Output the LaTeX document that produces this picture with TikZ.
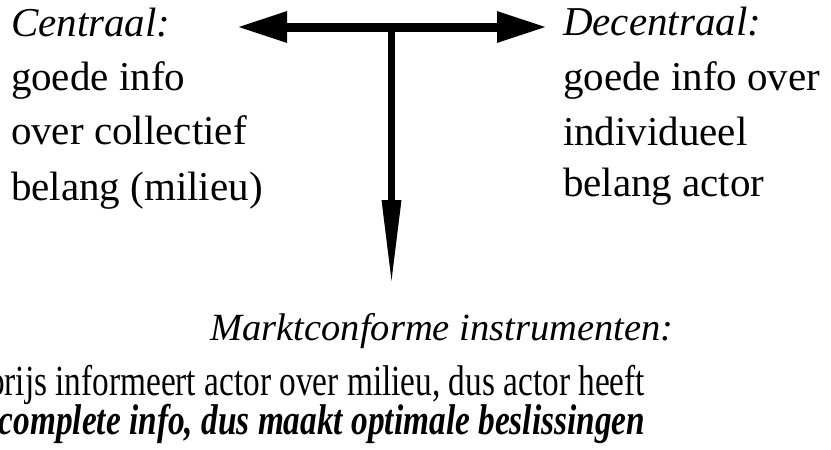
\documentclass[tikz,border=0pt]{standalone}
\usepackage{fontspec}
\usepackage{graphicx}
\setmainfont{Liberation Serif}
\usetikzlibrary{arrows.meta}
\begin{document}
\begin{tikzpicture}[x=1pt,y=-1pt,
  txt/.style={inner sep=0pt,outer sep=0pt,font=\fontsize{41}{48}\selectfont},
  htxt/.style={inner sep=0pt,outer sep=0pt,font=\fontsize{38.5}{44}\selectfont},
  btxt/.style={inner sep=0pt,outer sep=0pt,font=\fontsize{43}{48}\selectfont},
  harrow/.style={line width=9pt,{Triangle[length=50pt,width=29pt]}-{Triangle[length=50pt,width=29pt]}},
  varrow/.style={line width=6.5pt,-{Triangle[length=85pt,width=18pt]}}]
\useasboundingbox (0,0) rectangle (831,450);
\clip (0,0) rectangle (831,450);
% connectors
\coordinate (L) at (237,27);
\coordinate (R) at (547,27);
\coordinate (J) at (391.5,27);
\coordinate (B) at (391.5,285);
\draw[harrow] (L) -- (R);
\draw[varrow] (J) -- (B);
% left column
\node[txt,anchor=base west] (c1) at (11,36) {\itshape Centraal:};
\node[txt,anchor=base west] (c2) at (11,90) {goede info};
\node[txt,anchor=base west] (c3) at (11,144) {over collectief};
\node[txt,anchor=base west] (c4) at (11,200) {belang (milieu)};
% right column
\node[txt,anchor=base west] (d1) at (563,35) {\itshape Decentraal:};
\node[txt,anchor=base west] (d2) at (563,90) {goede info over};
\node[txt,anchor=base west] (d3) at (563,145) {individueel};
\node[txt,anchor=base west] (d4) at (563,196) {belang actor};
% bottom
\node[htxt,anchor=base] (m1) at (442,340) {\itshape Marktconforme instrumenten:};
\node[btxt,anchor=base east] (m2) at (645,395) {\scalebox{0.775}[1]{prijs informeert actor over milieu, dus actor heeft}};
\node[btxt,anchor=base east] (m3) at (645,434) {\scalebox{0.775}[1]{\bfseries\itshape complete info, dus maakt optimale beslissingen}};
\end{tikzpicture}
\end{document}
